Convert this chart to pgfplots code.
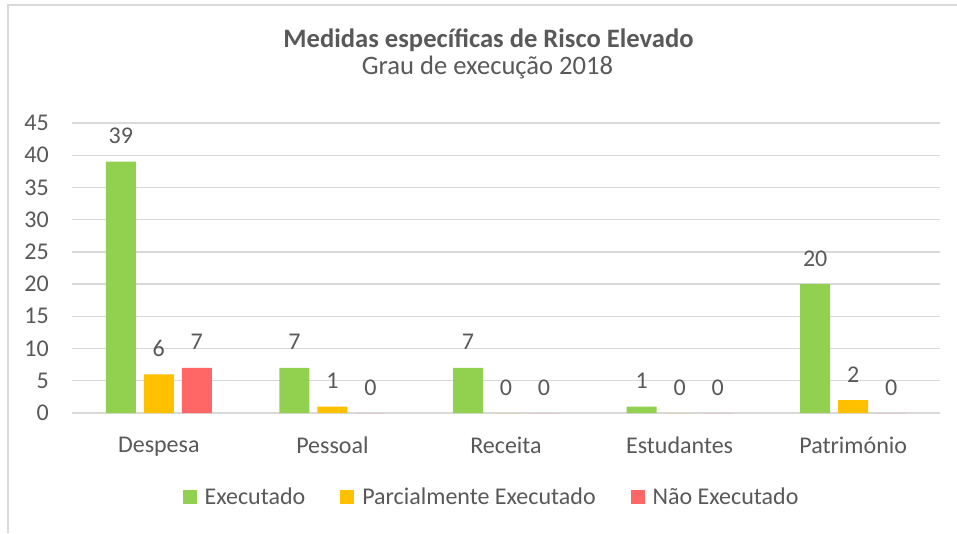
\documentclass[border=0pt]{standalone}
\usepackage{pgfplots}
\pgfplotsset{compat=1.18}
\usepackage{fontspec}
\setmainfont{Carlito}
\definecolor{cgreen}{HTML}{92D050}
\definecolor{corange}{HTML}{FFC000}
\definecolor{cred}{HTML}{FF6666}
\definecolor{ctext}{HTML}{595959}
\definecolor{cgrid}{HTML}{D9D9D9}
\newcommand{\lblfont}{\fontsize{24}{29}\selectfont}
\begin{document}
\begin{tikzpicture}
\useasboundingbox (0,0) rectangle (957pt,533pt);
\fill[white] (0,0) rectangle (957pt,533pt);
\draw[cgrid, line width=1.5pt] (8pt,0) -- (8pt,528pt) -- (957pt,528pt);
\node[font=\bfseries\fontsize{26.6}{32}\selectfont, text=ctext, anchor=base, inner sep=0pt] at (488.5pt,485pt) {Medidas específicas de Risco Elevado};
\node[font=\fontsize{26.6}{32}\selectfont, text=ctext, anchor=base, inner sep=0pt] at (487.5pt,458pt) {Grau de execução 2018};
\begin{axis}[
  at={(72pt,120pt)}, anchor=south west,
  scale only axis, width=868pt, height=290pt,
  ybar=8pt, bar width=30pt,
  xmin=-0.5, xmax=4.5, ymin=0, ymax=45,
  ytick={0,5,...,45},
  xtick={0,1,2,3,4},
  xticklabels={Despesa,Pessoal,Receita,Estudantes,Património},
  axis line style={draw=none},
  ymajorgrids, grid style={cgrid, line width=1.3pt},
  major tick length=0pt,
  tick style={draw=none},
  ticklabel style={font=\lblfont, text=ctext},
  /pgf/number format/assume math mode=true,
  yticklabel style={anchor=east, inner sep=0pt, xshift=-23pt},
  xticklabel style={anchor=north, inner sep=0pt, yshift=-24pt},
  nodes near coords,
  every node near coord/.append style={font=\lblfont, text=ctext, anchor=base, inner sep=0pt, yshift=18pt},
  legend style={at={(0.4833,-0.29)}, anchor=center, draw=none, fill=none,
    legend columns=3, font=\lblfont, text=ctext,
    /tikz/every even column/.append style={column sep=33pt},
    /tikz/every odd column/.append style={column sep=6pt}},
  legend cell align=left,
  legend image code/.code={\fill[#1] (0pt,-7pt) rectangle (14pt,7pt);},
]
\addplot[fill=cgreen, draw=none] coordinates {(0,39) (1,7) (2,7) (3,1) (4,20)};
\addplot[fill=corange, draw=none] coordinates {(0,6) (1,1) (2,0) (3,0) (4,2)};
\addplot[fill=cred, draw=none] coordinates {(0,7) (1,0) (2,0) (3,0) (4,0)};
\legend{Executado, Parcialmente Executado, Não Executado}
\end{axis}
\end{tikzpicture}
\end{document}
